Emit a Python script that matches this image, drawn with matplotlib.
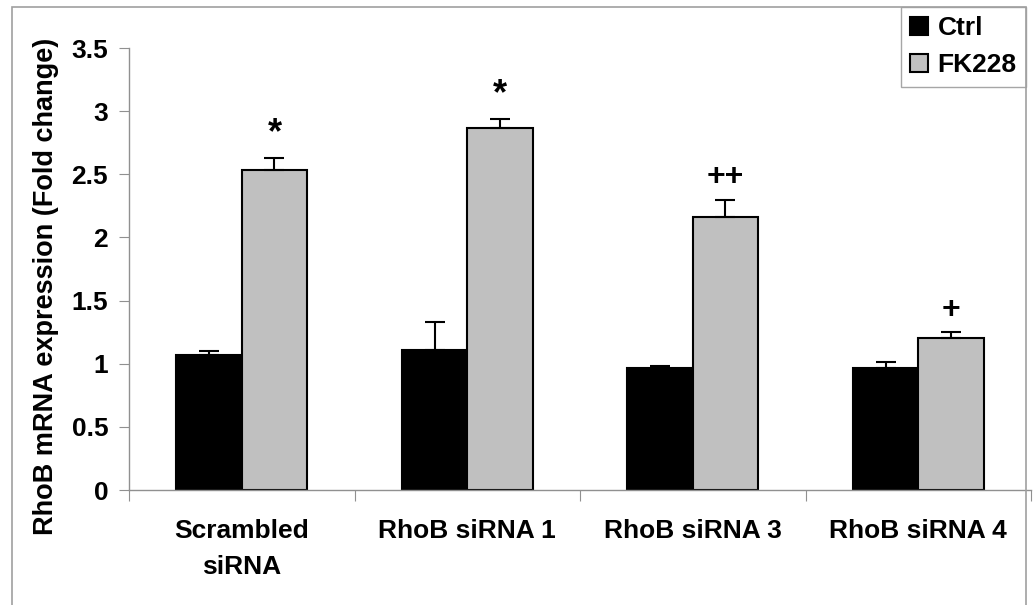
import numpy as np
import matplotlib.pyplot as plt
from matplotlib.patches import Rectangle

#====== data ======#
groups = ["Scrambled\nsiRNA", "RhoB siRNA 1", "RhoB siRNA 3", "RhoB siRNA 4"]
ctrl = [1.07, 1.11, 0.97, 0.97]
ctrl_err = [0.03, 0.22, 0.01, 0.04]
fk228 = [2.53, 2.87, 2.16, 1.20]
fk228_err = [0.10, 0.07, 0.14, 0.05]
marks = ["*", "*", "++", "+"]
ytick_vals = [0, 0.5, 1, 1.5, 2, 2.5, 3, 3.5]
ytick_labels = ["0", "0.5", "1", "1.5", "2", "2.5", "3", "3.5"]

plt.rcParams['font.family'] = ['Liberation Sans', 'DejaVu Sans']
plt.rcParams['font.weight'] = 'bold'

W, H = 1033, 605
fig = plt.figure(figsize=(W/100, H/100), dpi=100)
ax = fig.add_axes([129/W, 1-490/H, (1031-129)/W, (490-48)/H])

gray = '#909090'
x = np.arange(len(groups)) + 0.5
bw = 0.29
ax.bar(x - bw/2, ctrl, bw, color='black', edgecolor='black', linewidth=1.5, label='Ctrl', zorder=2)
ax.bar(x + bw/2, fk228, bw, color='#c0c0c0', edgecolor='black', linewidth=1.5, label='FK228', zorder=2)
ax.errorbar(x - bw/2, ctrl, yerr=[np.zeros(4), ctrl_err], fmt='none', ecolor='black',
            elinewidth=1.5, capsize=7, capthick=1.5, zorder=3)
ax.errorbar(x + bw/2, fk228, yerr=[np.zeros(4), fk228_err], fmt='none', ecolor='black',
            elinewidth=1.5, capsize=7, capthick=1.5, zorder=3)

for xi, v, e, m in zip(x, fk228, fk228_err, marks):
    if m == "*":
        ax.text(xi + bw/2, v + e + 0.05, m, ha='center', va='bottom', fontsize=26, fontweight='bold')
    else:
        ax.text(xi + bw/2, v + e + 0.06, m, ha='center', va='bottom', fontsize=23, fontweight='bold')

ax.set_xlim(0, 4)
ax.set_ylim(0, 3.5)
ax.set_yticks(ytick_vals)
ax.set_yticklabels(ytick_labels, fontsize=19, fontweight='bold')
ax.set_xticks([0, 1, 2, 3, 4])
ax.set_xticklabels([])
ax.set_xticks(x, minor=True)
ax.set_xticklabels(groups, minor=True, fontsize=19, fontweight='bold', linespacing=1.6)
ax.tick_params(axis='x', which='minor', length=0, pad=21)
ax.tick_params(axis='x', which='major', length=8, color=gray, direction='out')
ax.tick_params(axis='y', length=7, color=gray, direction='out', pad=8)

for s in ['top', 'right']:
    ax.spines[s].set_visible(False)
for s in ['left', 'bottom']:
    ax.spines[s].set_color(gray)
    ax.spines[s].set_linewidth(1)

ax.set_ylabel("RhoB mRNA expression (Fold change)", fontsize=19.5, fontweight='bold')
ax.yaxis.set_label_coords(-0.078, 0.46)

leg = ax.legend(loc='upper right', bbox_to_anchor=(1026/W, 1-7/H), bbox_transform=fig.transFigure,
                fontsize=19, frameon=True, fancybox=False, handlelength=0.7, handleheight=0.7,
                handletextpad=0.35, borderpad=0.35, labelspacing=0.5, borderaxespad=0)
leg.get_frame().set_edgecolor(gray)
leg.get_frame().set_linewidth(1)

# outer frame
fig.patches.append(Rectangle((12/W, -0.01), (1026-12)/W, 1-7/H + 0.01, transform=fig.transFigure,
                             fill=False, edgecolor='#a0a0a0', linewidth=1.2))

fig.savefig("out.png", dpi=100)
